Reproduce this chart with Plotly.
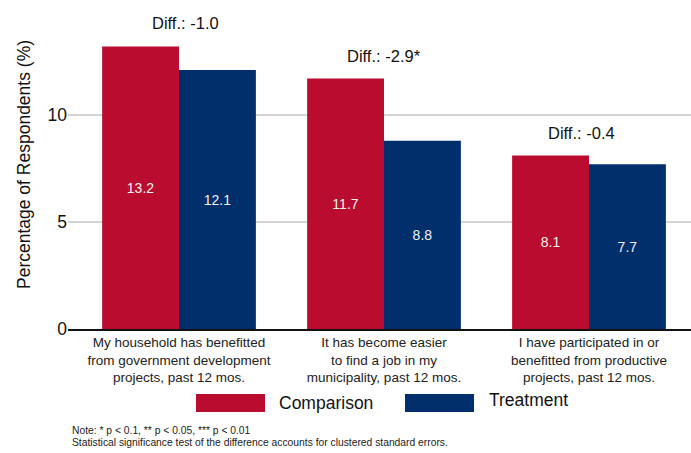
import plotly.graph_objects as go

# Survey items (x-axis categories)
categories = [
    "My household has benefitted<br>from government development<br>projects, past 12 mos.",
    "It has become easier<br>to find a job in my<br>municipality, past 12 mos.",
    "I have participated in or<br>benefitted from productive<br>projects, past 12 mos.",
]
comparison = [13.2, 11.7, 8.1]
treatment = [12.1, 8.8, 7.7]
diff_labels = ["Diff.: -1.0", "Diff.: -2.9*", "Diff.: -0.4"]
y_ticks = [0, 5, 10]

RED = "#BA0C2F"
BLUE = "#002F6C"
FONT = "Liberation Sans, Arial, sans-serif"

fig = go.Figure()
for name, vals, col in [("Comparison", comparison, RED), ("Treatment", treatment, BLUE)]:
    fig.add_trace(go.Bar(
        name=name, x=categories, y=vals, marker_color=col,
        texttemplate="%{y:.1f}", textposition="inside", insidetextanchor="middle",
        textangle=0, textfont=dict(color="#f2f2f2", size=14, family=FONT),
        marker_line_width=0,
    ))

# Difference labels above each pair of bars
shifts = [6, 0, -7]
for cat, c, t, lab, sx in zip(categories, comparison, treatment, diff_labels, shifts):
    fig.add_annotation(
        x=cat, y=max(c, t), text=lab, showarrow=False,
        yanchor="middle", yshift=23, xshift=sx,
        font=dict(size=16.5, color="#111111", family=FONT),
    )

# Legend drawn as wide swatches with labels
legend_items = [("Comparison", RED, 196, 277, 403), ("Treatment", BLUE, 405, 487, 400)]
W, H = 691, 453
for name, col, x0, tx, ty in legend_items:
    fig.add_shape(
        type="rect", xref="paper", yref="paper",
        x0=(x0 - 68) / (W - 68), x1=(x0 + 69 - 68) / (W - 68),
        y0=(329 - 412) / 329, y1=(329 - 394) / 329,
        fillcolor=col, line_width=0,
    )
    fig.add_annotation(
        xref="paper", yref="paper", x=(tx - 68) / (W - 68), y=(329 - ty) / 329,
        text=name, showarrow=False, xanchor="left", yanchor="middle",
        font=dict(size=17.5, color="#111111", family=FONT),
    )

# Footnote
notes = [
    ("Note: * p < 0.1, ** p < 0.05, *** p < 0.01", 430),
    ("Statistical significance test of the difference accounts for clustered standard errors.", 442),
]
for txt, ny in notes:
    fig.add_annotation(
        xref="paper", yref="paper", x=(70 - 68) / (W - 68), y=(329 - ny) / 329,
        text=txt, showarrow=False, xanchor="left", yanchor="middle",
        font=dict(size=10.3, color="#222222", family=FONT),
    )

fig.update_layout(
    width=W, height=H,
    margin=dict(l=68, r=0, t=0, b=124),
    barmode="group", bargap=0.25, bargroupgap=0,
    plot_bgcolor="white", paper_bgcolor="white",
    showlegend=False,
    font=dict(family=FONT, color="#111111"),
    xaxis=dict(
        range=[-0.5415, 2.4976], showgrid=False, ticks="",
        tickfont=dict(size=13.5, color="#222222"),
        showline=True, linecolor="#111111", linewidth=1.5,
    ),
    yaxis=dict(
        range=[0, 15.37], tickvals=y_ticks, ticks="",
        showgrid=True, gridcolor="#d4d4d4", gridwidth=1.5,
        zeroline=False, tickfont=dict(size=17.5, color="#111111"),
        title=dict(text="Percentage of Respondents (%)", font=dict(size=17.5), standoff=12),
    ),
)

fig.write_html("out.html")
